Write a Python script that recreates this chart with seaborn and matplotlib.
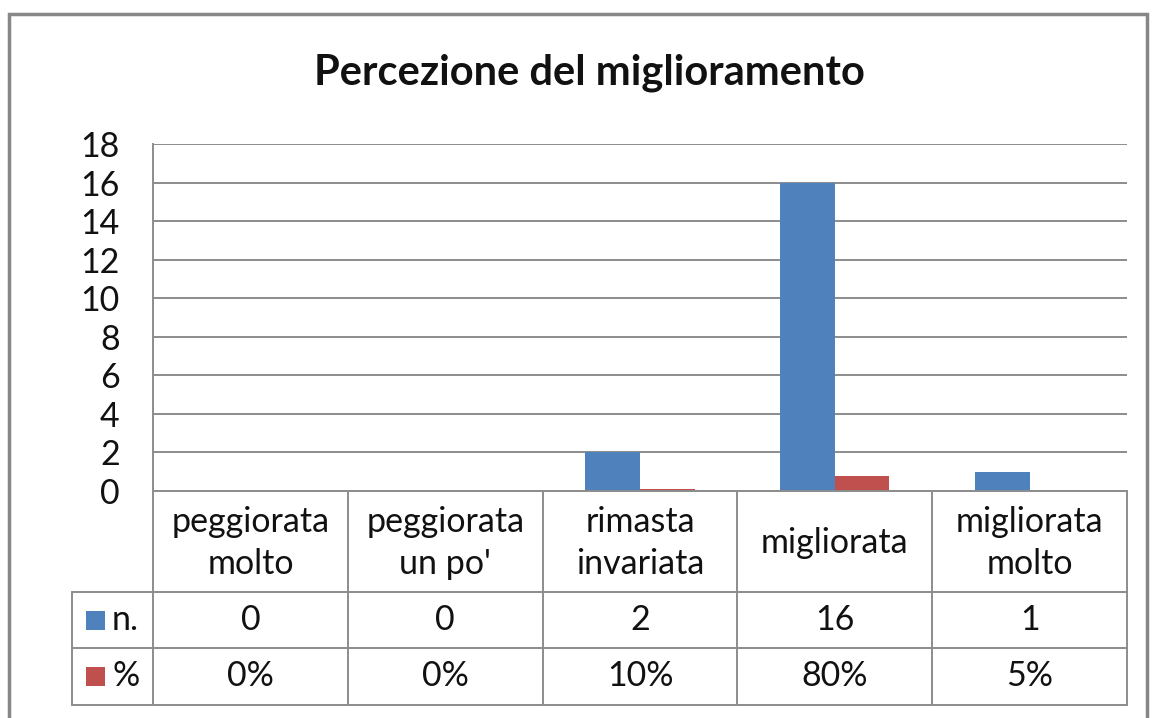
import numpy as np
import matplotlib.pyplot as plt
import seaborn as sns
import pandas as pd
from matplotlib.patches import Rectangle
from matplotlib.lines import Line2D
import matplotlib.transforms as mtransforms

# data
categorie = ["peggiorata\nmolto", "peggiorata\nun po'", "rimasta\ninvariata", "migliorata", "migliorata\nmolto"]
n_valori = [0, 0, 2, 16, 1]
perc_valori = [0.0, 0.0, 0.10, 0.80, 0.05]
perc_etichette = ["0%", "0%", "10%", "80%", "5%"]
serie = ["n.", "%"]
colori = ["#4F81BD", "#C0504D"]

df = pd.DataFrame({
    "categoria": categorie * 2,
    "valore": n_valori + perc_valori,
    "serie": [serie[0]] * len(categorie) + [serie[1]] * len(categorie),
})

sns.set_style("white")
plt.rcParams['font.family'] = ['Lato', 'DejaVu Sans']

W, H = 1155, 718
GRIGIO = "#8c8c8c"
FS = 24.5

fig = plt.figure(figsize=(W / 100, H / 100), dpi=100)
ax = fig.add_axes([153 / W, 1 - 491 / H, (1127 - 153) / W, (491 - 144) / H])

sns.barplot(data=df, x="categoria", y="valore", hue="serie", palette=colori,
            width=0.56, gap=0, saturation=1, linewidth=0, legend=False, ax=ax)

ax.set_xlim(-0.5, len(categorie) - 0.5)
ax.set_ylim(0, 18)
ax.set_yticks(np.arange(0, 19, 2))
ax.tick_params(axis="y", labelsize=FS, length=0, pad=24, labelcolor="#111111")
ax.set_xticks([])
ax.set_xlabel("")
ax.set_ylabel("")
ax.yaxis.grid(True, color=GRIGIO, linewidth=1.4)
ax.set_axisbelow(True)
for s in ["top", "right"]:
    ax.spines[s].set_visible(False)
for s in ["left", "bottom"]:
    ax.spines[s].set_color(GRIGIO)
    ax.spines[s].set_linewidth(1.4)

# data table under the axis
def ya(ypx):
    return (491 - ypx) / 347

col_px = (1127 - 153) / len(categorie)
trans = mtransforms.blended_transform_factory(ax.transData, ax.transAxes)
x_sx = -0.5 + (72 - 153) / col_px
x_dx = len(categorie) - 0.5
y_cat, y_n, y_p = ya(592), ya(648), ya(705)

def linea(xs, ys):
    ax.add_line(Line2D(xs, ys, transform=trans, color=GRIGIO, lw=1.4, clip_on=False))

for xb in np.arange(-0.5, len(categorie), 1.0):
    linea([xb, xb], [0, y_p])
linea([x_sx, x_sx], [y_cat, y_p])
linea([x_sx, x_dx], [y_cat, y_cat])
linea([x_sx, x_dx], [y_n, y_n])
linea([x_sx, x_dx], [y_p, y_p])

for i, cat in enumerate(categorie):
    ax.text(i, ya(543), cat, transform=trans, ha="center", va="center",
            fontsize=FS, color="#111111", linespacing=1.35)
    ax.text(i, (y_cat + y_n) / 2, str(n_valori[i]), transform=trans,
            ha="center", va="center", fontsize=FS, color="#111111")
    ax.text(i, (y_n + y_p) / 2, perc_etichette[i], transform=trans,
            ha="center", va="center", fontsize=FS, color="#111111")

# legend keys inside the table
lato = 19
for nome, col, yc in [(serie[0], colori[0], (y_cat + y_n) / 2), (serie[1], colori[1], (y_n + y_p) / 2)]:
    ax.add_patch(Rectangle((x_sx + 14 / col_px, yc - lato / 2 / 347), lato / col_px, lato / 347,
                           transform=trans, facecolor=col, edgecolor="none", clip_on=False))
    ax.text(x_sx + 40 / col_px, yc, nome, transform=trans, ha="left", va="center",
            fontsize=FS, color="#111111")

fig.text(589 / W, 1 - 73 / H, "Percezione del miglioramento", ha="center", va="center",
         fontsize=30, fontweight="bold", color="#111111")

# outer chart border
fig.add_artist(Rectangle((9 / W, -0.05), (1147 - 9) / W, 1 - 14 / H + 0.05,
                         transform=fig.transFigure, facecolor="none",
                         edgecolor="#878787", lw=2.5))

fig.savefig("out.png", dpi=100)
